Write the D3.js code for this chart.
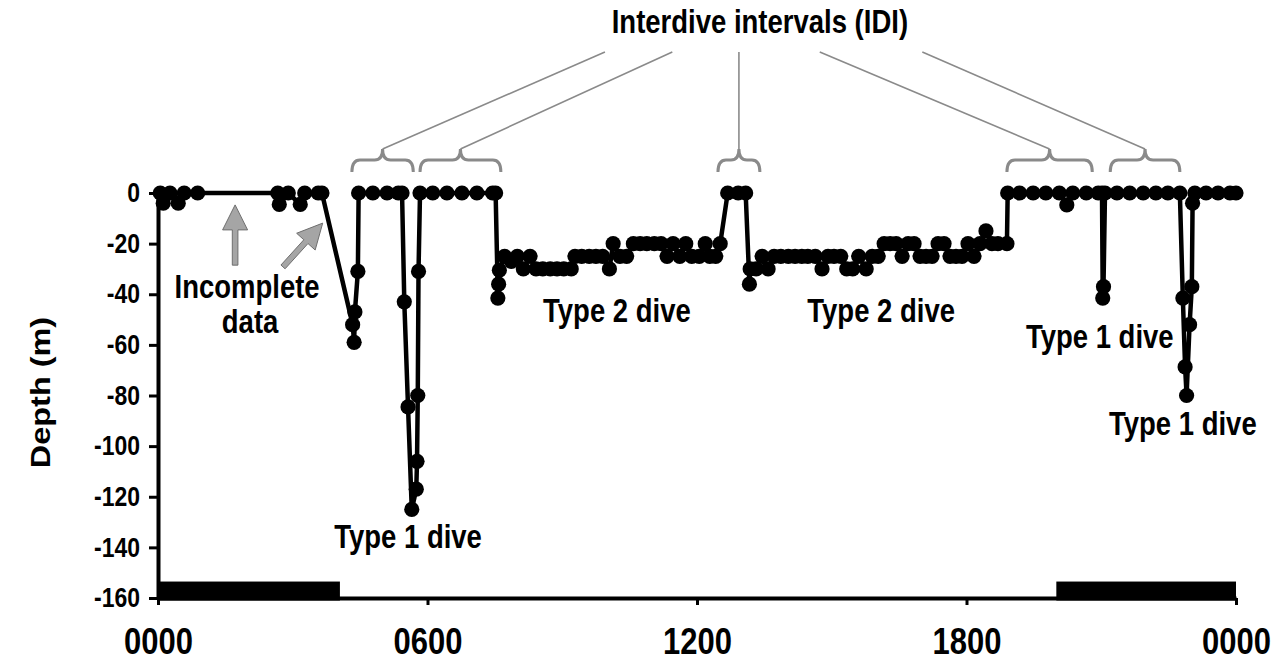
<!DOCTYPE html>
<html>
<head>
<meta charset="utf-8">
<script src="https://cdn.jsdelivr.net/npm/d3@7"></script>
<style>
  body { margin: 0; background: #fff; }
  svg text { font-family: "Liberation Sans", Arial, sans-serif; font-weight: bold; fill: #000; }
</style>
</head>
<body>
<svg id="chart" width="1284" height="666"></svg>
<script>
const width = 1284, height = 666;
const margin = {left: 158, right: 48, top: 193, bottom: 68};
const stretch = 1.18; // lettering in the figure is tall and narrow

// time of each record (minutes after midnight) and its depth (m)
const minutes = [3, 7, 16, 27, 35, 53, 160, 162, 174, 190, 196, 214, 219,
    260, 262, 263, 267, 268, 287, 306, 321, 326, 329, 334, 339, 345, 346, 347, 348, 350,
    367, 386, 406, 426, 447, 451, 454, 455, 456, 463, 472, 480, 488, 497, 505, 514, 524,
    533, 542, 552, 557, 566, 576, 585, 594, 603, 608, 617, 626, 635, 644, 653, 663, 672,
    680, 688, 697, 705, 713, 723, 731, 737, 745, 751, 761, 775, 785, 790, 791, 799, 807,
    815, 823, 832, 842, 851, 860, 868, 878, 887, 895, 903, 912, 920, 928, 936, 946, 954,
    962, 970, 978, 986, 994, 1002, 1010, 1018, 1026, 1034, 1042, 1050, 1058, 1066, 1074,
    1082, 1090, 1098, 1106, 1114, 1122, 1134, 1135, 1151, 1169, 1186, 1204, 1214, 1222,
    1240, 1256, 1261, 1262, 1263, 1265, 1281, 1298, 1316, 1333, 1349, 1365, 1369, 1372,
    1374, 1378, 1381, 1382, 1385, 1400, 1416, 1432, 1440];
const depths = [0, -4, 0, -4, 0, 0, 0, -4.5, 0, -4.5, 0, 0, 0,
    -52, -59, -47, -31, 0, 0, 0, 0, 0, -43, -84.5, -125, -117, -106, -80, -31, 0,
    0, 0, 0, 0, 0, 0, -41.5, -36, -30.5, -25, -27, -25, -30, -25, -30, -30, -30,
    -30, -30, -30, -25, -25, -25, -25, -25, -30, -20, -25, -25, -20, -20, -20, -20, -20,
    -25, -20, -25, -20, -25, -25, -20, -25, -25, -20, 0, 0, 0, -36, -30, -30, -25,
    -30, -25, -25, -25, -25, -25, -25, -25, -30, -25, -25, -25, -30, -30, -25, -30, -25,
    -25, -20, -20, -20, -25, -20, -20, -25, -25, -25, -20, -20, -25, -25, -25,
    -20, -25, -20, -15, -20, -20, -20, 0, 0, 0, 0, 0, -4.7, 0,
    0, 0, 0, -41.5, -37, 0, 0, 0, 0, 0, 0, 0, -41.5, -68.7,
    -80, -52, -37, -4, 0, 0, 0, 0, 0];

const yTicks = [0, -20, -40, -60, -80, -100, -120, -140, -160];
const xTickMinutes = [0, 360, 720, 1080, 1440];
const xTickLabels = ["0000", "0600", "1200", "1800", "0000"];

// night periods (black bars on the time axis)
const nightStart = [0, 1200];
const nightEnd = [243, 1440];

// interdive intervals marked with braces, and where their leader lines leave the title
const idiStart = [259, 350, 748, 1134, 1272];
const idiEnd = [341, 458, 804, 1248, 1365];
const idiLeaderFrom = [597, 687, 776, 884, 1021];

const diveLabels = ["Type 1 dive", "Type 2 dive", "Type 2 dive", "Type 1 dive", "Type 1 dive"];
const diveLabelMinute = [334, 613, 966, 1258, 1369];
const diveLabelDepth = [-140.3, -51, -51, -61.3, -95.7];

// "Incomplete data" arrows: tail and tip
const arrowTail = [[103, -28.5], [167, -29.2]];
const arrowTip = [[103, -4.7], [220, -11.9]];

const svg = d3.select("#chart");

const x = d3.scaleLinear().domain([0, 1440]).range([margin.left, width - margin.right]);
const y = d3.scaleLinear().domain([-160, 0]).range([height - margin.bottom, margin.top]);

/* bold text, stretched upward like the original lettering */
function label(g, px, py, str, size, rotate) {
    return g.append("text")
        .attr("transform", `translate(${px},${py}) scale(1,${stretch})` + (rotate ? ` rotate(${rotate})` : ""))
        .attr("text-anchor", "middle")
        .style("font-size", size + "px")
        .text(str);
}

// night bars
svg.selectAll("rect.night")
    .data(nightStart)
    .enter()
    .append("rect")
    .attr("x", (d) => x(d))
    .attr("width", (d, i) => x(nightEnd[i]) - x(d))
    .attr("y", y(-153.5))
    .attr("height", y(-161) - y(-153.5))
    .attr("fill", "#000");

// axes
var yAxis = svg.append("g")
    .attr("transform", `translate(${margin.left},0)`)
    .call(d3.axisLeft(y).tickValues(yTicks).tickSize(9).tickSizeOuter(0).tickPadding(9)
        .tickFormat((d) => String(d)));
yAxis.select(".domain").attr("stroke-width", 4);
yAxis.selectAll(".tick line").attr("stroke-width", 3);
yAxis.selectAll(".tick text")
    .style("font-size", "23px")
    .attr("transform", `scale(1,${stretch})`);

var xAxis = svg.append("g")
    .attr("transform", `translate(0,${y(-160)})`)
    .call(d3.axisBottom(x).tickValues(xTickMinutes).tickSize(7).tickSizeOuter(0)
        .tickFormat((d, i) => xTickLabels[i]));
xAxis.select(".domain").attr("stroke-width", 4);
xAxis.selectAll(".tick line").attr("stroke-width", 3);
xAxis.selectAll(".tick text")
    .style("font-size", "31px")
    .attr("y", 30 / stretch)
    .attr("transform", `scale(1,${stretch})`);
svg.selectAll(".tick text").attr("font-family", null).attr("font-size", null);

label(svg, 50, (margin.top + height - margin.bottom) / 2 - 3, "Depth (m)", 27.5, -90);

// dive profile
var points = minutes.map((m, i) => [m, depths[i]]);
svg.append("path")
    .datum(points)
    .attr("fill", "none")
    .attr("stroke", "#000")
    .attr("stroke-width", 4.5)
    .attr("stroke-linejoin", "round")
    .attr("d", d3.line().x((d) => x(d[0])).y((d) => y(d[1])));

svg.selectAll("circle.rec")
    .data(points)
    .enter()
    .append("circle")
    .attr("cx", (d) => x(d[0]))
    .attr("cy", (d) => y(d[1]))
    .attr("r", 7.6)
    .attr("fill", "#000");

// dive type labels
diveLabels.forEach((t, i) => {
    label(svg, x(diveLabelMinute[i]), y(diveLabelDepth[i]), t, 27.5);
});

// interdive interval braces and leader lines
const grey = "#8a8a8a";
var yFoot = y(0) - 21, yBar = y(0) - 33, yPeak = y(0) - 44, r = 8;
idiStart.forEach((s, i) => {
    var x0 = x(s), x1 = x(idiEnd[i]), xm = (x0 + x1) / 2;
    svg.append("path")
        .attr("d", `M${x0},${yFoot} Q${x0},${yBar} ${x0 + r},${yBar} L${xm - r},${yBar} Q${xm},${yBar} ${xm},${yPeak}` +
            ` Q${xm},${yBar} ${xm + r},${yBar} L${x1 - r},${yBar} Q${x1},${yBar} ${x1},${yFoot}`)
        .attr("fill", "none")
        .attr("stroke", grey)
        .attr("stroke-width", 3);
    svg.append("line")
        .attr("x1", x(idiLeaderFrom[i]))
        .attr("y1", y(55.7))
        .attr("x2", xm)
        .attr("y2", yPeak)
        .attr("stroke", grey)
        .attr("stroke-width", 1.6);
});
label(svg, x(804), y(63.2), "Interdive intervals (IDI)", 27.5);

// incomplete data note
label(svg, x(119), y(-41.5), "Incomplete", 27.5);
label(svg, x(123), y(-55.3), "data", 27.5);

function arrowPoints(x0, y0, x1, y1) {
    var len = Math.hypot(x1 - x0, y1 - y0);
    var ux = (x1 - x0) / len, uy = (y1 - y0) / len, nx = -uy, ny = ux;
    var hl = 25, hw = 12.5, sw = 2.8;
    var bx = x1 - ux * hl, by = y1 - uy * hl;
    return [[x0 + nx * sw, y0 + ny * sw], [bx + nx * sw, by + ny * sw], [bx + nx * hw, by + ny * hw],
        [x1, y1], [bx - nx * hw, by - ny * hw], [bx - nx * sw, by - ny * sw], [x0 - nx * sw, y0 - ny * sw]];
}
arrowTail.forEach((a, i) => {
    var pts = arrowPoints(x(a[0]), y(a[1]), x(arrowTip[i][0]), y(arrowTip[i][1]));
    svg.append("polygon")
        .attr("points", pts.map((p) => p.join(",")).join(" "))
        .attr("fill", "#a5a5a5")
        .attr("stroke", "#6e6e6e")
        .attr("stroke-width", 1);
});
</script>
</body>
</html>
